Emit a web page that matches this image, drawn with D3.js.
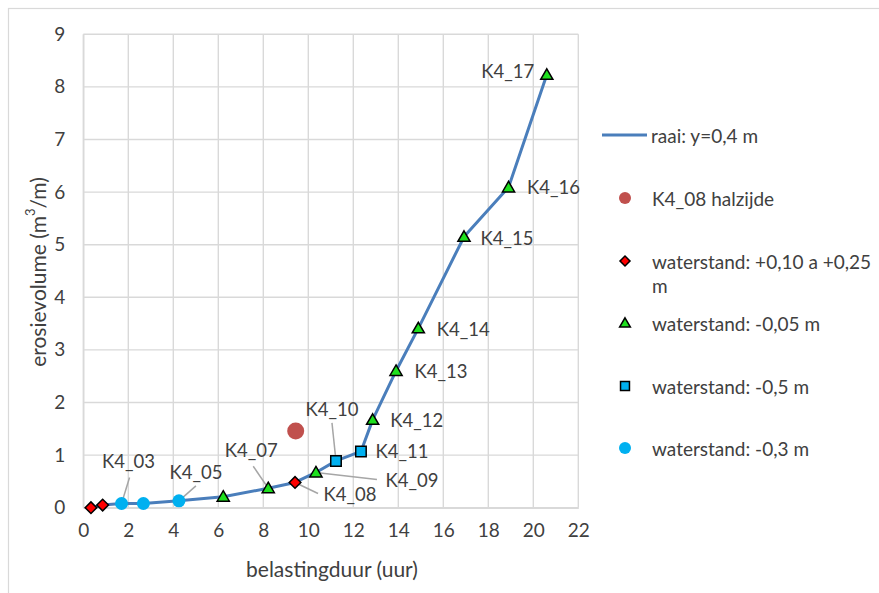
<!DOCTYPE html>
<html>
<head>
<meta charset="utf-8">
<script src="https://cdn.jsdelivr.net/npm/d3@7"></script>
<style>
  html, body { margin: 0; padding: 0; background: #fff; }
  text { font-family: Lato, "Open Sans", sans-serif; fill: #404040; }
</style>
</head>
<body>
<svg id="chart" width="879" height="593"></svg>
<script>
// ---------- data ----------
const xTicks = [0, 2, 4, 6, 8, 10, 12, 14, 16, 18, 20, 22];
const yTicks = [0, 1, 2, 3, 4, 5, 6, 7, 8, 9];

// raai: y=0,4 m (line through all tests, in order)
const raaiX = [0.34, 0.86, 1.70, 2.67, 4.25, 6.22, 8.22, 9.41, 10.34, 11.23, 12.34, 12.86, 13.90, 14.89, 16.92, 18.90, 20.60];
const raaiY = [0.00, 0.05, 0.08, 0.08, 0.13, 0.21, 0.37, 0.48, 0.67, 0.89, 1.07, 1.67, 2.60, 3.41, 5.15, 6.09, 8.23];
const raaiNames = ["K4_01", "K4_02", "K4_03", "K4_04", "K4_05", "K4_06", "K4_07", "K4_08", "K4_09", "K4_10", "K4_11", "K4_12", "K4_13", "K4_14", "K4_15", "K4_16", "K4_17"];

// K4_08 halzijde
const halzijdeX = [9.44];
const halzijdeY = [1.46];

// waterstand: +0,10 a +0,25 m
const wsHighX = [0.34, 0.86, 9.41];
const wsHighY = [0.00, 0.05, 0.48];

// waterstand: -0,05 m
const wsM005X = [6.22, 8.22, 10.34, 12.86, 13.90, 14.89, 16.92, 18.90, 20.60];
const wsM005Y = [0.21, 0.37, 0.67, 1.67, 2.60, 3.41, 5.15, 6.09, 8.23];

// waterstand: -0,5 m
const wsM05X = [11.23, 12.34];
const wsM05Y = [0.89, 1.07];

// waterstand: -0,3 m
const wsM03X = [1.70, 2.67, 4.25];
const wsM03Y = [0.08, 0.08, 0.13];

const legendLabels = ["raai: y=0,4 m", "K4_08 halzijde", "waterstand: +0,10 a +0,25", "waterstand: -0,05 m", "waterstand: -0,5 m", "waterstand: -0,3 m"];

// ---------- layout (pixels) ----------
const labelLayout = {
  "K4_03": { dx: 7,   dy: -42, lead: [1, 16] },
  "K4_05": { dx: 17,  dy: -29, lead: [0, 14] },
  "K4_07": { dx: -17, dy: -38, lead: [2, 16] },
  "K4_08": { dx: 55,  dy: 12,  lead: [-32, -1] },
  "K4_09": { dx: 96,  dy: 8,   lead: [-35, -1] },
  "K4_10": { dx: -4,  dy: -52, lead: [0, 14] },
  "K4_11": { dx: 41,  dy: 0 },
  "K4_12": { dx: 44,  dy: 0 },
  "K4_13": { dx: 45,  dy: 0 },
  "K4_14": { dx: 45,  dy: 1 },
  "K4_15": { dx: 43,  dy: 1 },
  "K4_16": { dx: 45,  dy: 0 },
  "K4_17": { dx: -39, dy: -4 }
};

const svg = d3.select("#chart");
const W = 879, H = 593;
const plot = { left: 83.3, right: 578.3, top: 34.3, bottom: 507.7 };

// outer chart border
svg.append("rect").attr("x", 8.5).attr("y", 8.5).attr("width", W + 20).attr("height", H + 20)
  .attr("fill", "#fff").attr("stroke", "#d9d9d9").attr("stroke-width", 1.2);

const x = d3.scaleLinear().domain([0, 22]).range([plot.left, plot.right]);
const y = d3.scaleLinear().domain([0, 9]).range([plot.bottom, plot.top]);

// grid
const grid = svg.append("g");
grid.selectAll("line.v").data(xTicks).join("line")
  .attr("x1", d => x(d)).attr("x2", d => x(d))
  .attr("y1", plot.top).attr("y2", plot.bottom)
  .attr("stroke", "#d9d9d9").attr("stroke-width", 1.4);
grid.selectAll("line.h").data(yTicks).join("line")
  .attr("y1", d => y(d)).attr("y2", d => y(d))
  .attr("x1", plot.left).attr("x2", plot.right)
  .attr("stroke", "#d9d9d9").attr("stroke-width", 1.4);

// axes (labels only, Excel style)
const xAxis = d3.axisBottom(x).tickValues(xTicks).tickSize(0).tickPadding(16);
const gx = svg.append("g").attr("transform", `translate(0,${plot.bottom})`).call(xAxis);
gx.select(".domain").attr("stroke", "#d9d9d9").attr("stroke-width", 1.4);
gx.selectAll("text").style("font-size", "19px").attr("fill", "#404040");

const yAxis = d3.axisLeft(y).tickValues(yTicks).tickSize(0).tickPadding(18);
const gy = svg.append("g").attr("transform", `translate(${plot.left},0)`).call(yAxis);
gy.select(".domain").attr("stroke", "#d9d9d9").attr("stroke-width", 1.4);
gy.selectAll("text").style("font-size", "19px").attr("fill", "#404040");

// axis titles
svg.append("text").attr("x", 332).attr("y", 568).attr("text-anchor", "middle")
  .attr("dominant-baseline", "central").style("font-size", "21px").text("belastingduur (uur)");
const yt = svg.append("text").attr("transform", "translate(37,272) rotate(-90)")
  .attr("text-anchor", "middle").attr("dominant-baseline", "central").style("font-size", "21px");
yt.append("tspan").text("erosievolume (m");
yt.append("tspan").attr("dy", -7).style("font-size", "13px").text("3");
yt.append("tspan").attr("dy", 7).text("/m)");

// leader lines
const raaiPts = raaiX.map((v, i) => ({ x: v, y: raaiY[i], name: raaiNames[i] }));
const labeled = raaiPts.filter(p => labelLayout[p.name]);
svg.append("g").selectAll("line").data(labeled.filter(p => labelLayout[p.name].lead)).join("line")
  .attr("x1", p => x(p.x) + labelLayout[p.name].dx + labelLayout[p.name].lead[0])
  .attr("y1", p => y(p.y) + labelLayout[p.name].dy + labelLayout[p.name].lead[1])
  .attr("x2", p => x(p.x)).attr("y2", p => y(p.y))
  .attr("stroke", "#a6a6a6").attr("stroke-width", 1.5);

// raai line
const line = d3.line().x(d => x(d.x)).y(d => y(d.y));
svg.append("path").datum(raaiPts).attr("d", line)
  .attr("fill", "none").attr("stroke", "#4a7ebb").attr("stroke-width", 3).attr("stroke-linejoin", "round");

// markers
function pts(xs, ys) { return xs.map((v, i) => ({ x: v, y: ys[i] })); }
const sym = (type, size) => d3.symbol().type(type).size(size)();
const mk = svg.append("g");
mk.selectAll("circle.cy").data(pts(wsM03X, wsM03Y)).join("circle")
  .attr("cx", d => x(d.x)).attr("cy", d => y(d.y)).attr("r", 6.5).attr("fill", "#00b0f0");
mk.selectAll("path.di").data(pts(wsHighX, wsHighY)).join("path")
  .attr("transform", d => `translate(${x(d.x)},${y(d.y)}) rotate(45)`)
  .attr("d", sym(d3.symbolSquare, 68)).attr("fill", "#ff0000").attr("stroke", "#000").attr("stroke-width", 1.5);
mk.selectAll("path.tr").data(pts(wsM005X, wsM005Y)).join("path")
  .attr("transform", d => `translate(${x(d.x)},${y(d.y) + 1})`)
  .attr("d", sym(d3.symbolTriangle, 64)).attr("fill", "#1ee01e").attr("stroke", "#000").attr("stroke-width", 1.5);
mk.selectAll("path.sq").data(pts(wsM05X, wsM05Y)).join("path")
  .attr("transform", d => `translate(${x(d.x)},${y(d.y)})`)
  .attr("d", sym(d3.symbolSquare, 110)).attr("fill", "#00b0f0").attr("stroke", "#000").attr("stroke-width", 1.5);
mk.selectAll("circle.hz").data(pts(halzijdeX, halzijdeY)).join("circle")
  .attr("cx", d => x(d.x)).attr("cy", d => y(d.y)).attr("r", 8.5).attr("fill", "#c0504d");

// data labels
svg.append("g").selectAll("text").data(labeled).join("text")
  .attr("x", p => x(p.x) + labelLayout[p.name].dx)
  .attr("y", p => y(p.y) + labelLayout[p.name].dy)
  .attr("text-anchor", "middle").attr("dominant-baseline", "central")
  .style("font-size", "18.5px").text(p => p.name);

// legend
const lg = svg.append("g");
const legY = [135, 198, 261, 323, 386, 448];
const lx = 625, tx = 652;
lg.append("line").attr("x1", 602).attr("x2", 647).attr("y1", legY[0]).attr("y2", legY[0])
  .attr("stroke", "#4a7ebb").attr("stroke-width", 3);
lg.append("circle").attr("cx", lx).attr("cy", legY[1]).attr("r", 6).attr("fill", "#c0504d");
lg.append("path").attr("transform", `translate(${lx},${legY[2]}) rotate(45)`)
  .attr("d", sym(d3.symbolSquare, 50)).attr("fill", "#ff0000").attr("stroke", "#000").attr("stroke-width", 1.5);
lg.append("path").attr("transform", `translate(${lx},${legY[3] + 1})`)
  .attr("d", sym(d3.symbolTriangle, 50)).attr("fill", "#1ee01e").attr("stroke", "#000").attr("stroke-width", 1.5);
lg.append("path").attr("transform", `translate(${lx},${legY[4]})`)
  .attr("d", sym(d3.symbolSquare, 80)).attr("fill", "#00b0f0").attr("stroke", "#000").attr("stroke-width", 1.5);
lg.append("circle").attr("cx", lx).attr("cy", legY[5]).attr("r", 6).attr("fill", "#00b0f0");
lg.selectAll("text.l").data(legendLabels).join("text")
  .attr("x", (d, i) => i === 0 ? tx - 1 : tx).attr("y", (d, i) => legY[i])
  .attr("dominant-baseline", "central").style("font-size", "19px").text(d => d);
lg.append("text").attr("x", tx).attr("y", 285).attr("dominant-baseline", "central")
  .style("font-size", "19px").text("m");
</script>
</body>
</html>
